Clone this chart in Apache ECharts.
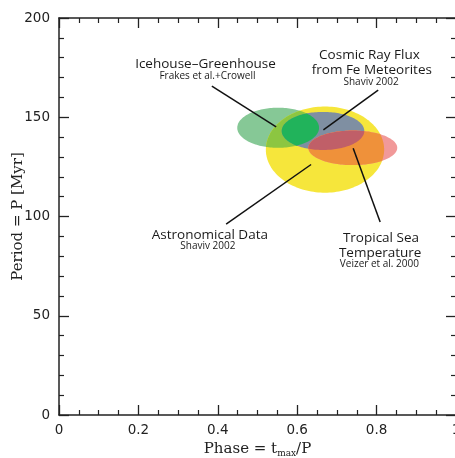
<!DOCTYPE html>
<html><head><meta charset="utf-8">
<script src="https://cdn.jsdelivr.net/npm/echarts@6/dist/echarts.min.js"></script>
<style>html,body{margin:0;padding:0;background:#fff}#c{width:455px;height:458px}</style>
</head><body><div id="c"></div>
<script>
// Ellipses: 0 Astronomical (yellow), 1 Icehouse (green), 2 Cosmic ray (blue-grey), 3 Tropical sea (red)
const ellipseNames = ['Astronomical Data', 'Icehouse–Greenhouse', 'Cosmic Ray Flux', 'Tropical Sea Temperature'];
const ellipseCenterX = [0.670, 0.552, 0.665, 0.740];
const ellipseCenterY = [133.7, 144.7, 143.1, 134.6];
const ellipseRadiusX = [0.149, 0.103, 0.104, 0.112];
const ellipseRadiusY = [21.7, 10.1, 9.6, 8.7];

// Leader lines from labels to ellipses
const leaderStartX = [0.385, 0.804, 0.421, 0.809];
const leaderStartY = [165.7, 163.7, 96.2, 97.2];
const leaderEndX = [0.547, 0.666, 0.635, 0.741];
const leaderEndY = [145.1, 143.6, 126.2, 134.4];

// Annotation text lines
const labelTexts = ['Icehouse–Greenhouse', 'Frakes et al.+Crowell',
  'Cosmic Ray Flux', 'from Fe Meteorites', 'Shaviv 2002',
  'Astronomical Data', 'Shaviv 2002',
  'Tropical Sea', 'Temperature', 'Veizer et al. 2000'];
const labelX = [0.369, 0.374, 0.782, 0.788, 0.786, 0.380, 0.375, 0.811, 0.809, 0.807];
const labelY = [176.8, 170.8, 181.4, 173.5, 167.9, 90.7, 85.1, 89.0, 81.5, 75.9];
const labelIsMain = [1, 0, 1, 1, 0, 1, 0, 1, 1, 0];

// Axes
const xMin = 0, xMax = 1, xStep = 0.2;
const yMin = 0, yMax = 200, yStep = 50;

const COL = {
  yellow: '#f6e63b', green: '#86c896', greenYellow: '#8cc641', blue: '#7f8fa2',
  greenBlue: '#21b35b', red: '#f19999', redYellow: '#ef913a', redBlue: '#c05f68'
};

function clipPoly(subject, clip) {
  let area = 0;
  for (let i = 0; i < clip.length; i++) {
    const a = clip[i], b = clip[(i + 1) % clip.length];
    area += a[0] * b[1] - b[0] * a[1];
  }
  const sgn = area > 0 ? 1 : -1;
  let out = subject;
  for (let i = 0; i < clip.length && out.length; i++) {
    const a = clip[i], b = clip[(i + 1) % clip.length];
    const inside = p => sgn * ((b[0] - a[0]) * (p[1] - a[1]) - (b[1] - a[1]) * (p[0] - a[0])) >= 0;
    const inter = (p, q) => {
      const dx = q[0] - p[0], dy = q[1] - p[1], ex = b[0] - a[0], ey = b[1] - a[1];
      const den = dx * ey - dy * ex;
      const t = ((a[0] - p[0]) * ey - (a[1] - p[1]) * ex) / den;
      return [p[0] + t * dx, p[1] + t * dy];
    };
    const inp = out; out = [];
    for (let j = 0; j < inp.length; j++) {
      const cur = inp[j], prev = inp[(j + inp.length - 1) % inp.length];
      const ci = inside(cur), pi = inside(prev);
      if (ci) { if (!pi) out.push(inter(prev, cur)); out.push(cur); }
      else if (pi) out.push(inter(prev, cur));
    }
  }
  return out;
}

function renderRegions(params, api) {
  const poly = i => {
    const c = api.coord([ellipseCenterX[i], ellipseCenterY[i]]);
    const s = api.size([ellipseRadiusX[i], ellipseRadiusY[i]]);
    const pts = [];
    const N = 160;
    for (let k = 0; k < N; k++) {
      const t = 2 * Math.PI * k / N;
      pts.push([c[0] + s[0] * Math.cos(t), c[1] + s[1] * Math.sin(t)]);
    }
    return pts;
  };
  const Y = poly(0), G = poly(1), B = poly(2), R = poly(3);
  const shapes = [
    [G, COL.green],
    [Y, COL.yellow],
    [clipPoly(G, Y), COL.greenYellow],
    [B, COL.blue],
    [clipPoly(G, B), COL.greenBlue],
    [R, COL.red],
    [clipPoly(R, Y), COL.redYellow],
    [clipPoly(R, B), COL.redBlue]
  ];
  return {
    type: 'group',
    children: shapes.filter(s => s[0].length > 2).map(s => ({
      type: 'polygon', shape: { points: s[0] }, style: { fill: s[1], stroke: null }
    }))
  };
}

const axisColor = '#222';
const baseAxis = {
  type: 'value',
  axisLine: { show: true, onZero: false, lineStyle: { color: axisColor, width: 1.5 } },
  axisTick: { show: true, inside: true, length: 10, lineStyle: { color: axisColor, width: 1.3 } },
  minorTick: { show: true, length: 5, lineStyle: { color: axisColor, width: 1.2 } },
  splitLine: { show: false },
  minorSplitLine: { show: false }
};

const option = {
  animation: false,
  backgroundColor: '#fff',
  grid: { left: 59, right: -1, top: 18, bottom: 43, containLabel: false, outerBoundsMode: 'none' },
  xAxis: [
    Object.assign({}, baseAxis, {
      position: 'bottom', min: xMin, max: xMax, interval: xStep,
      minorTick: Object.assign({}, baseAxis.minorTick, { splitNumber: 4 }),
      axisLabel: { fontFamily: 'DejaVu Sans', fontSize: 13.5, color: axisColor, margin: 8 },
      name: '{a|Phase = t}{s|max}{a|/P}',
      nameLocation: 'middle', nameGap: 22,
      nameTextStyle: {
        rich: {
          a: { fontFamily: 'DejaVu Serif', fontSize: 15, color: axisColor },
          s: { fontFamily: 'DejaVu Serif', fontSize: 9, color: axisColor, padding: [8, 0, 0, 0] }
        }
      }
    }),
    Object.assign({}, baseAxis, {
      position: 'top', min: xMin, max: xMax, interval: xStep,
      minorTick: Object.assign({}, baseAxis.minorTick, { splitNumber: 4 }),
      axisLabel: { show: false }
    })
  ],
  yAxis: [
    Object.assign({}, baseAxis, {
      position: 'left', min: yMin, max: yMax, interval: yStep,
      minorTick: Object.assign({}, baseAxis.minorTick, { splitNumber: 5 }),
      axisLabel: { fontFamily: 'DejaVu Sans', fontSize: 13.5, color: axisColor, margin: 9 },
      name: 'Period = P [Myr]', nameLocation: 'middle', nameGap: 33, nameMoveOverlap: false,
      nameTextStyle: { fontFamily: 'DejaVu Serif', fontSize: 15, color: axisColor }
    }),
    Object.assign({}, baseAxis, {
      position: 'right', min: yMin, max: yMax, interval: yStep,
      minorTick: Object.assign({}, baseAxis.minorTick, { splitNumber: 5 }),
      axisLabel: { show: false }
    })
  ],
  series: [
    {
      type: 'custom', coordinateSystem: 'cartesian2d', xAxisIndex: 0, yAxisIndex: 0,
      clip: false, silent: true,
      data: [[ellipseCenterX[0], ellipseCenterY[0]]],
      renderItem: renderRegions
    },
    {
      type: 'custom', coordinateSystem: 'cartesian2d', xAxisIndex: 0, yAxisIndex: 0,
      clip: false, silent: true,
      encode: { x: [0, 2], y: [1, 3] },
      data: leaderStartX.map((v, i) => [v, leaderStartY[i], leaderEndX[i], leaderEndY[i]]),
      renderItem: (params, api) => {
        const p1 = api.coord([api.value(0), api.value(1)]);
        const p2 = api.coord([api.value(2), api.value(3)]);
        return { type: 'line', shape: { x1: p1[0], y1: p1[1], x2: p2[0], y2: p2[1] },
          style: { stroke: '#111', lineWidth: 1.5 } };
      }
    },
    {
      type: 'custom', coordinateSystem: 'cartesian2d', xAxisIndex: 0, yAxisIndex: 0,
      clip: false, silent: true,
      data: labelX.map((v, i) => [v, labelY[i], i]),
      renderItem: (params, api) => {
        const i = api.value(2);
        const p = api.coord([api.value(0), api.value(1)]);
        const main = labelIsMain[i];
        return { type: 'text', x: p[0], y: p[1],
          style: { text: labelTexts[i], fontFamily: 'Open Sans', fontSize: main ? 13.5 : 10,
            fill: '#1a1a1a', align: 'center', verticalAlign: 'middle' } };
      }
    }
  ]
};

const chart = echarts.init(document.getElementById('c'), null, { renderer: 'canvas' });
chart.setOption(option);
</script>
</body></html>
